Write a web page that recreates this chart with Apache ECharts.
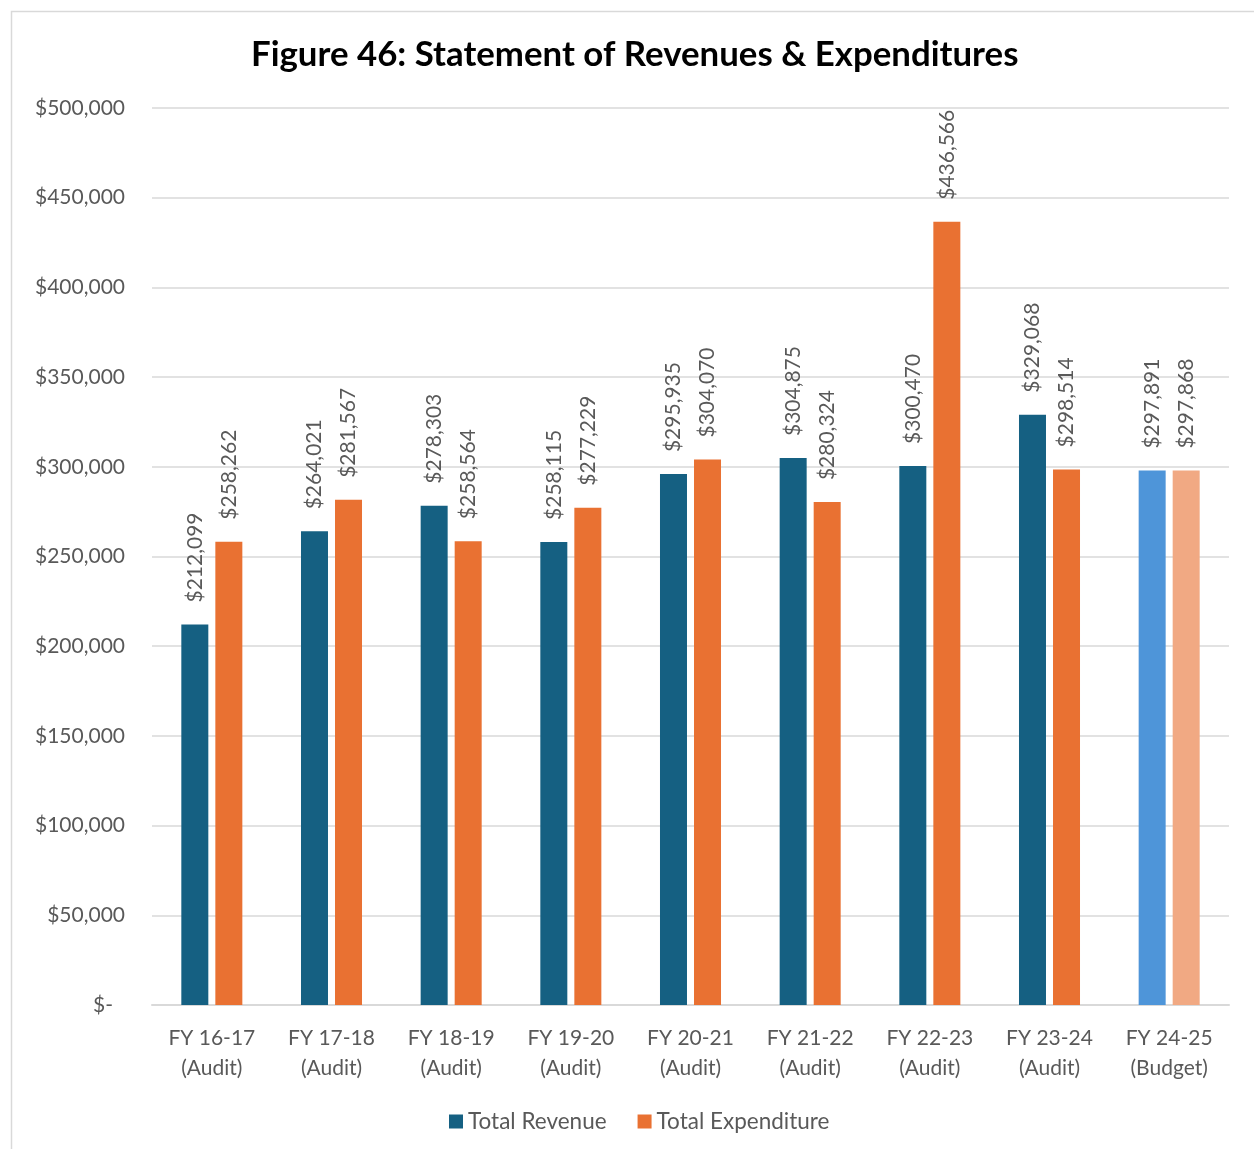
<!DOCTYPE html>
<html>
<head>
<meta charset="utf-8">
<script src="https://cdn.jsdelivr.net/npm/echarts@6/dist/echarts.min.js"></script>
<style>
html,body{margin:0;padding:0;background:#fff;}
#chart{width:1254px;height:1149px;}
</style>
</head>
<body>
<div id="chart"></div>
<script>
var categories = ['FY 16-17\n(Audit)','FY 17-18\n(Audit)','FY 18-19\n(Audit)','FY 19-20\n(Audit)','FY 20-21\n(Audit)','FY 21-22\n(Audit)','FY 22-23\n(Audit)','FY 23-24\n(Audit)','FY 24-25\n(Budget)'];
var totalRevenue = [212099,264021,278303,258115,295935,304875,300470,329068,297891];
var totalExpenditure = [258262,281567,258564,277229,304070,280324,436566,298514,297868];
var budgetIndex = 8;

var FONT = 'Lato';
var TXT = '#595959';
function money(v){ return v === 0 ? '$-' : '$' + v.toLocaleString('en-US'); }

function build(vals, budgetColor){
  return vals.map(function(v,i){
    return i === budgetIndex ? {value:v, itemStyle:{color:budgetColor}} : v;
  });
}

var chart = echarts.init(document.getElementById('chart'), null, {renderer:'canvas'});
var labelCfg = {
  show:true, position:'top', rotate:90, align:'left', verticalAlign:'middle',
  distance:22, color:TXT, fontFamily:FONT, fontSize:21,
  formatter:function(p){ return money(p.value); }
};
chart.setOption({
  animation:false,
  backgroundColor:'#fff',
  graphic:[{type:'rect', shape:{x:11.5,y:11.5,width:1260,height:1160}, style:{fill:'none', stroke:'#d9d9d9', lineWidth:1.5}, z:-1}],
  title:{text:'Figure 46: Statement of Revenues & Expenditures', left:246, top:32,
    textStyle:{fontFamily:FONT, fontWeight:'bold', fontSize:34.8, color:'#000'}},
  grid:{left:152, right:25, top:108, bottom:144, containLabel:false},
  legend:{bottom:11, left:444, itemWidth:14, itemHeight:14, itemGap:31, icon:'rect',
    textStyle:{fontFamily:FONT, fontSize:22.5, color:TXT},
    data:['Total Revenue','Total Expenditure']},
  xAxis:{type:'category', data:categories,
    axisLine:{lineStyle:{color:'#d9d9d9', width:2}}, axisTick:{show:false},
    axisLabel:{fontFamily:FONT, fontSize:21, color:TXT, lineHeight:30, margin:18}},
  yAxis:{type:'value', min:0, max:500000, interval:50000,
    axisLine:{show:false}, axisTick:{show:false},
    splitLine:{lineStyle:{color:'#d9d9d9', width:1.5}},
    axisLabel:{fontFamily:FONT, fontSize:21, color:TXT, margin:27,
      formatter:function(v){ return v === 0 ? '{z|' + money(v) + '}' : money(v); },
      rich:{z:{fontFamily:FONT, fontSize:21, color:TXT, padding:[0,12,0,0]}}}},
  series:[
    {name:'Total Revenue', type:'bar', barWidth:27, barGap:'26%', itemStyle:{color:'#156082'},
      data:build(totalRevenue,'#4E95D9'), label:labelCfg},
    {name:'Total Expenditure', type:'bar', barWidth:27, barGap:'26%', itemStyle:{color:'#E97132'},
      data:build(totalExpenditure,'#F1A983'), label:labelCfg}
  ]
});
</script>
</body>
</html>
